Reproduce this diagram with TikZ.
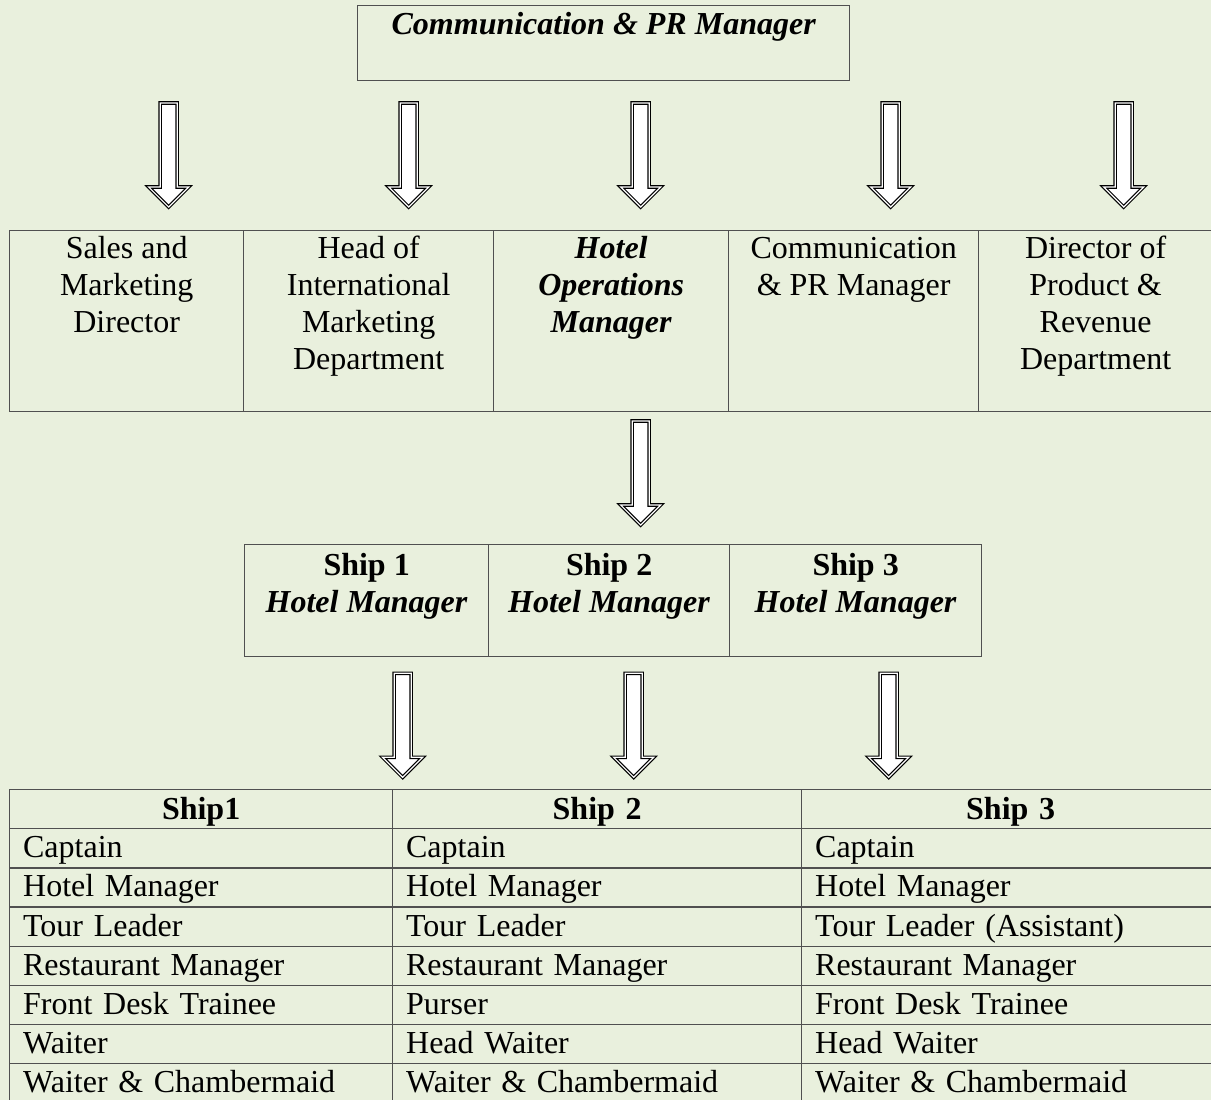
\documentclass[tikz,border=0pt]{standalone}
\usepackage{fontspec}
\setmainfont{Liberation Serif}
\usetikzlibrary{calc}
\definecolor{paper}{RGB}{233,240,221}
\definecolor{rulegray}{RGB}{80,80,80}
\begin{document}
\begin{tikzpicture}[x=1pt,y=-1pt,
  frame/.style={draw=rulegray, line width=1.3pt, inner sep=0pt, anchor=north west},
  txt/.style={font=\fontsize{32}{37}\selectfont, align=center, inner sep=0pt, anchor=north},
  hollow/.style={draw=black, line width=1.2pt, double=white, double distance=1.2pt,
    fill=white, line join=miter,
    to path={let \p2=(\tikztotarget) in
      (\x2-8.5pt,\y2+104pt) -- (\x2+8.5pt,\y2+104pt) -- (\x2+8.5pt,\y2+20pt)
      -- (\x2+20pt,\y2+20pt) -- (\x2,\y2) -- (\x2-20pt,\y2+20pt)
      -- (\x2-8.5pt,\y2+20pt) -- cycle}},
  cell/.style={draw=rulegray, line width=1.3pt, anchor=north west,
    font=\fontsize{32}{37}\selectfont, inner ysep=0pt, inner xsep=13.5pt,
    text height=29pt, text depth=10.14pt, text width=#1, align=left},
  headcell/.style={cell=#1, align=center, text height=30pt, text depth=9.14pt,
    font=\fontsize{32}{37}\selectfont\bfseries}]

% page
\fill[paper] (0,0) rectangle (1211,1100);
\useasboundingbox (0,0) rectangle (1211,1100);

% top box
\node[frame, minimum width=492pt, minimum height=75pt] (top) at (357,5) {};
\node[txt, font=\fontsize{32}{37}\selectfont\bfseries\itshape] (topt)
  at ($(top.north)+(0,3)$) {\strut Communication \& PR Manager};

% second level
\node[frame, minimum width=234pt, minimum height=181pt] (b1) at (9,230) {};
\node[frame, minimum width=250pt, minimum height=181pt] (b2) at (243,230) {};
\node[frame, minimum width=235pt, minimum height=181pt] (b3) at (493,230) {};
\node[frame, minimum width=250pt, minimum height=181pt] (b4) at (728,230) {};
\node[frame, minimum width=234pt, minimum height=181pt] (b5) at (978,230) {};

\node[txt] (b1t) at ($(b1.north)+(0,2)$) {\strut Sales and\\Marketing\\Director};
\node[txt] (b2t) at ($(b2.north)+(0,2)$) {\strut Head of\\International\\Marketing\\Department};
\node[txt, font=\fontsize{32}{37}\selectfont\bfseries\itshape] (b3t)
  at ($(b3.north)+(0,2)$) {\strut Hotel\\Operations\\Manager};
\node[txt] (b4t) at ($(b4.north)+(0,2)$) {\strut Communication\\\& PR Manager};
\node[txt] (b5t) at ($(b5.north)+(0,2)$) {\strut Director of\\Product \&\\Revenue\\Department};

% ship managers
\node[frame, minimum width=244pt, minimum height=112pt] (s1) at (244,544) {};
\node[frame, minimum width=241pt, minimum height=112pt] (s2) at (488,544) {};
\node[frame, minimum width=252pt, minimum height=112pt] (s3) at (729,544) {};

\node[txt] (s1t) at ($(s1.north)+(0,5)$) {\strut\textbf{Ship 1}\\\textbf{\itshape Hotel Manager}};
\node[txt] (s2t) at ($(s2.north)+(0,5)$) {\strut\textbf{Ship 2}\\\textbf{\itshape Hotel Manager}};
\node[txt] (s3t) at ($(s3.north)+(0,5)$) {\strut\textbf{Ship 3}\\\textbf{\itshape Hotel Manager}};

% crew table
\foreach \c/\x/\w/\hd/\items [evaluate=\w as \tw using \w-27] in {
  1/9/383/Ship1/{Captain,Hotel Manager,Tour Leader,Restaurant Manager,Front Desk Trainee,Waiter,Waiter \& Chambermaid},
  2/392/409/Ship 2/{Captain,Hotel Manager,Tour Leader,Restaurant Manager,Purser,Head Waiter,Waiter \& Chambermaid},
  3/801/418/Ship 3/{Captain,Hotel Manager,Tour Leader (Assistant),Restaurant Manager,Front Desk Trainee,Head Waiter,Waiter \& Chambermaid}}{
  \node[headcell=\tw pt] (h\c) at (\x,789) {\hd};
  \foreach \t [count=\r] in \items {
    \node[cell=\tw pt] (t-\c-\r) at (\x,789+39.14*\r) {\t};
  }
}

% arrows
\draw[hollow] (top.south) to ($(b1.north)+(42,-23)$);
\draw[hollow] (top.south) to ($(b2.north)+(40,-23)$);
\draw[hollow] (top.south) to ($(b3.north)+(29.5,-23)$);
\draw[hollow] (top.south) to ($(b4.north)+(37,-23)$);
\draw[hollow] (top.south) to ($(b5.north)+(28,-23)$);
\draw[hollow] (b3.south) to ($(s2.north)+(31.5,-19)$);
\draw[hollow] (s1.south) to ($(s1.south)+(36,120)$);
\draw[hollow] (s2.south) to ($(s2.south)+(24.5,120)$);
\draw[hollow] (s3.south) to ($(s3.south)+(33,120)$);
\end{tikzpicture}
\end{document}
